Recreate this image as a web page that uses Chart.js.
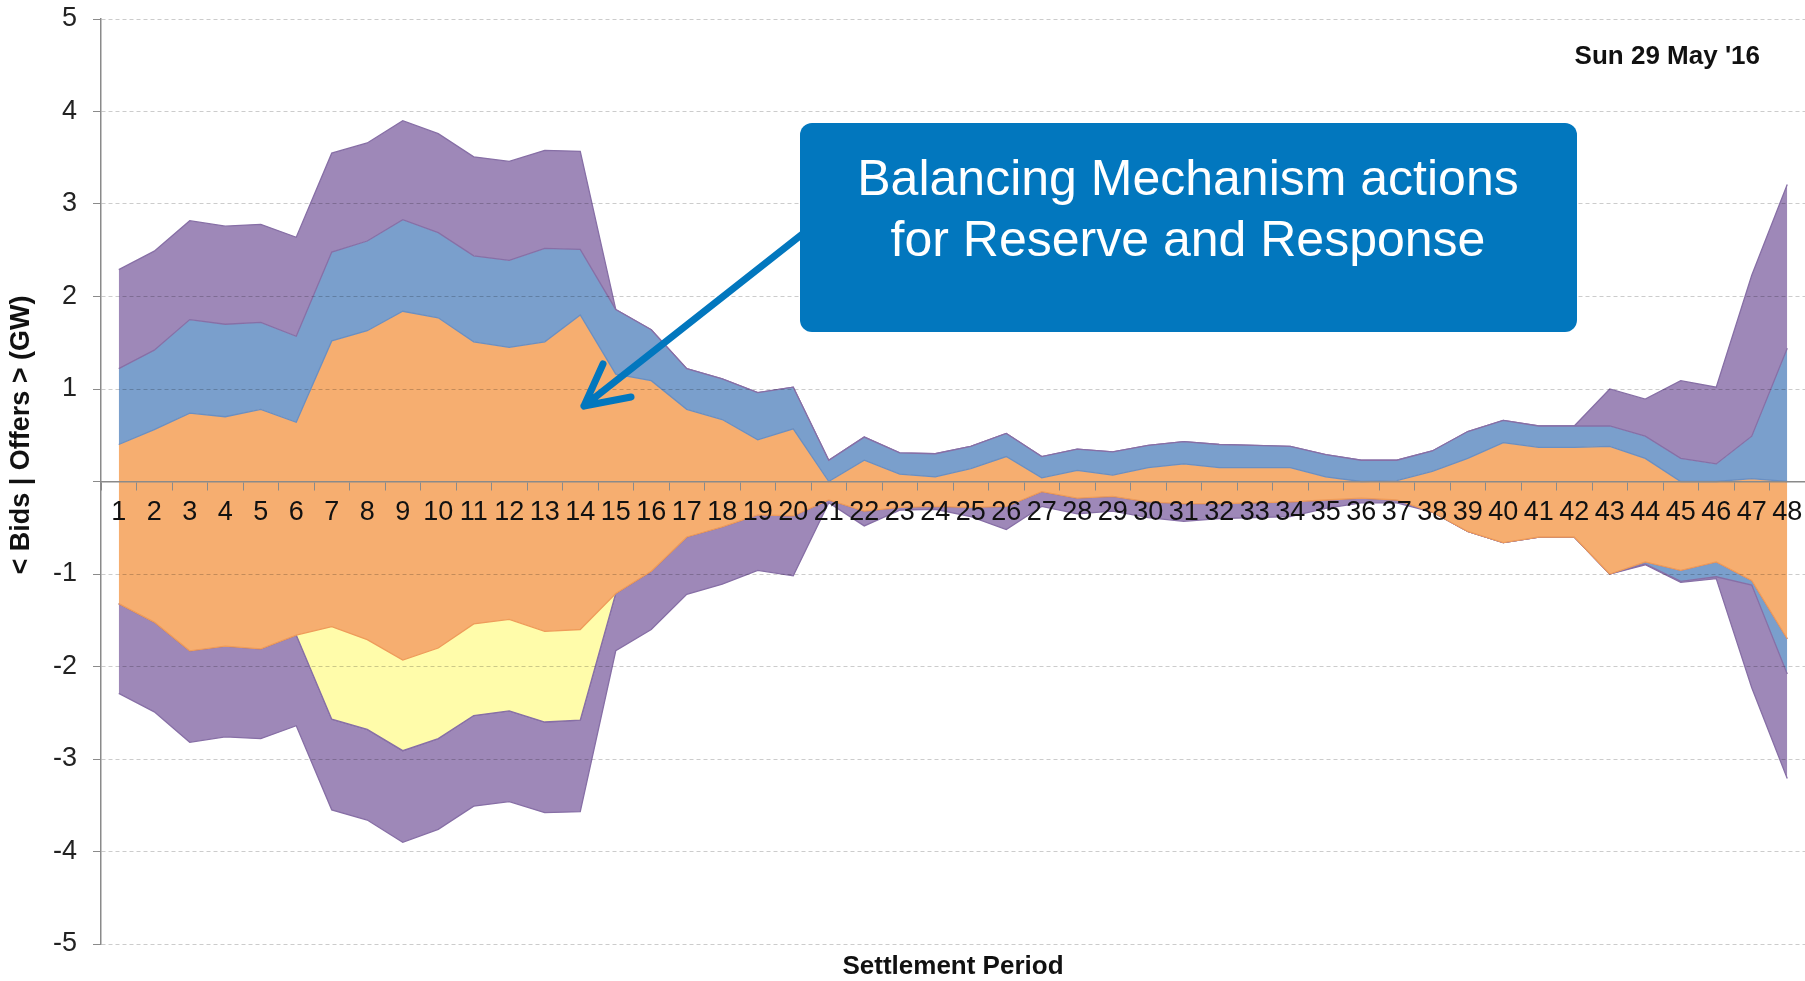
<!DOCTYPE html>
<html>
<head>
<meta charset="utf-8">
<title>Balancing Mechanism actions for Reserve and Response</title>
<script src="https://cdn.jsdelivr.net/npm/chart.js@4.4.0/dist/chart.umd.min.js"></script>
<style>
  html, body { margin: 0; padding: 0; background: #fff; }
  #wrap { width: 1805px; height: 981px; }
</style>
</head>
<body>
<div id="wrap"><canvas id="bmChart" width="1805" height="981"></canvas></div>
<script>
// settlement periods (x tick labels)
var periods = ['1', '2', '3', '4', '5', '6', '7', '8', '9', '10', '11', '12', '13', '14', '15', '16',
  '17', '18', '19', '20', '21', '22', '23', '24', '25', '26', '27', '28', '29', '30', '31', '32',
  '33', '34', '35', '36', '37', '38', '39', '40', '41', '42', '43', '44', '45', '46', '47', '48'];

// offers, GW, stacked up from zero
var offersOrange = [0.40, 0.56, 0.74, 0.70, 0.78, 0.64, 1.52, 1.63, 1.84, 1.77,
  1.51, 1.45, 1.51, 1.80, 1.16, 1.09, 0.78, 0.67, 0.45, 0.57,
  0.00, 0.23, 0.08, 0.05, 0.14, 0.27, 0.04, 0.12, 0.07, 0.15,
  0.19, 0.15, 0.15, 0.15, 0.05, 0.00, 0.01, 0.11, 0.25, 0.42,
  0.37, 0.37, 0.38, 0.25, 0.00, 0.00, 0.03, 0.00];
var offersBlue = [0.82, 0.86, 1.01, 1.00, 0.94, 0.93, 0.96, 0.97, 0.99, 0.92,
  0.93, 0.94, 1.01, 0.71, 0.70, 0.55, 0.44, 0.44, 0.51, 0.45,
  0.23, 0.25, 0.23, 0.25, 0.24, 0.25, 0.23, 0.23, 0.25, 0.24,
  0.24, 0.25, 0.24, 0.23, 0.24, 0.23, 0.22, 0.22, 0.29, 0.24,
  0.23, 0.23, 0.22, 0.24, 0.25, 0.19, 0.46, 1.44];
var offersPurple = [1.07, 1.07, 1.07, 1.06, 1.06, 1.07, 1.07, 1.06, 1.07, 1.07,
  1.07, 1.07, 1.06, 1.06, 0, 0, 0, 0, 0, 0,
  0, 0, 0, 0, 0, 0, 0, 0, 0, 0,
  0, 0, 0, 0, 0, 0, 0, 0, 0, 0,
  0, 0, 0.40, 0.40, 0.84, 0.83, 1.74, 1.77];

// bids, GW, stacked down from zero
var bidsOrange = [-1.32, -1.52, -1.83, -1.78, -1.81, -1.66, -1.57, -1.71, -1.93, -1.80,
  -1.54, -1.49, -1.62, -1.60, -1.21, -0.97, -0.60, -0.49, -0.36, -0.37,
  -0.20, -0.32, -0.28, -0.27, -0.28, -0.27, -0.11, -0.18, -0.16, -0.22,
  -0.24, -0.24, -0.23, -0.22, -0.20, -0.18, -0.20, -0.33, -0.54, -0.66,
  -0.60, -0.60, -1.00, -0.87, -0.96, -0.87, -1.07, -1.70];
var bidsYellow = [0, 0, 0, 0, 0, 0, -1.00, -0.97, -0.98, -0.98,
  -0.99, -0.99, -0.98, -0.98, 0, 0, 0, 0, 0, 0,
  0, 0, 0, 0, 0, 0, 0, 0, 0, 0,
  0, 0, 0, 0, 0, 0, 0, 0, 0, 0,
  0, 0, 0, 0, 0, 0, 0, 0];
var bidsBlue = [0, 0, 0, 0, 0, 0, 0, 0, 0, 0,
  0, 0, 0, 0, 0, 0, 0, 0, 0, 0,
  0, 0, 0, 0, 0, 0, 0, 0, 0, 0,
  0, 0, 0, 0, 0, 0, 0, 0, 0, 0,
  0, 0, 0, -0.02, -0.12, -0.16, -0.05, -0.38];
var bidsPurple = [-0.97, -0.97, -0.99, -0.98, -0.97, -0.98, -0.98, -0.98, -0.99, -0.98,
  -0.98, -0.98, -0.98, -0.99, -0.62, -0.63, -0.62, -0.62, -0.60, -0.65,
  -0.03, -0.16, -0.03, -0.03, -0.10, -0.25, -0.16, -0.17, -0.16, -0.17,
  -0.19, -0.16, -0.16, -0.16, -0.09, -0.05, -0.03, 0, 0, 0,
  0, 0, 0, -0.01, -0.01, -0.02, -1.11, -1.13];

var FONT = '"Liberation Sans", Arial, sans-serif';
var ORANGE = '#f6ae70', BLUE = '#7a9fcc', PURPLE = '#9e88b8', YELLOW = '#fffcaa';
var PURPLE_LINE = '#876fa6', BLUE_LINE = '#6a8fc2', ORANGE_LINE = '#ef9c5a';

function area(label, data, stack, fill, bg, line) {
    return {
        label: label,
        data: data,
        stack: stack,
        fill: fill,
        backgroundColor: bg,
        borderColor: line,
        borderWidth: 1.3,
        pointRadius: 0,
        tension: 0
    };
}

// callout, arrow, date and axis titles
var extras = {
    id: 'extras',
    afterDraw: function (chart) {
        var ctx = chart.ctx;
        var area = chart.chartArea;

        ctx.save();
        ctx.fillStyle = '#111';
        ctx.font = 'bold 27px ' + FONT;
        ctx.textAlign = 'center';
        ctx.textBaseline = 'middle';
        ctx.translate(22, 435);
        ctx.rotate(-Math.PI / 2);
        ctx.fillText('< Bids | Offers > (GW)', 0, 0);
        ctx.restore();

        ctx.save();
        ctx.fillStyle = '#111';
        ctx.font = 'bold 26px ' + FONT;
        ctx.textAlign = 'center';
        ctx.textBaseline = 'alphabetic';
        ctx.fillText('Settlement Period', (area.left + area.right) / 2, 974);
        ctx.textAlign = 'right';
        ctx.fillText('Sun 29 May \'16', 1760, 64);
        ctx.restore();

        // arrow
        ctx.save();
        ctx.strokeStyle = '#0277be';
        ctx.lineWidth = 7;
        ctx.lineCap = 'round';
        ctx.lineJoin = 'round';
        ctx.beginPath();
        ctx.moveTo(805, 232);
        ctx.lineTo(584, 406);
        ctx.moveTo(603, 364);
        ctx.lineTo(584, 406);
        ctx.lineTo(631, 397);
        ctx.stroke();

        // callout box
        ctx.fillStyle = '#0277be';
        ctx.beginPath();
        ctx.roundRect(800, 123, 777, 209, 12);
        ctx.fill();
        ctx.fillStyle = '#fff';
        ctx.font = '50px ' + FONT;
        ctx.textAlign = 'center';
        ctx.textBaseline = 'alphabetic';
        ctx.fillText('Balancing Mechanism actions', 1188, 195);
        ctx.fillText('for Reserve and Response', 1188, 256);
        ctx.restore();
    }
};

var bmChart = new Chart(document.getElementById('bmChart'), {
    type: 'line',
    data: {
        labels: periods,
        datasets: [
            area('Offers A', offersOrange, 'offers', 'origin', ORANGE, BLUE_LINE),
            area('Offers B', offersBlue, 'offers', '-1', BLUE, PURPLE_LINE),
            area('Offers C', offersPurple, 'offers', '-1', PURPLE, PURPLE_LINE),
            area('Bids A', bidsOrange, 'bids', 'origin', ORANGE, ORANGE_LINE),
            area('Bids D', bidsYellow, 'bids', '-1', YELLOW, PURPLE_LINE),
            area('Bids B', bidsBlue, 'bids', '-1', BLUE, PURPLE_LINE),
            area('Bids C', bidsPurple, 'bids', '-1', PURPLE, PURPLE_LINE)
        ]
    },
    options: {
        responsive: false,
        animation: false,
        events: [],
        layout: {
            autoPadding: false,
            padding: { top: 19, bottom: 37, left: 0, right: 0 }
        },
        plugins: {
            legend: { display: false },
            tooltip: { enabled: false }
        },
        scales: {
            x: {
                type: 'category',
                position: { y: 0 },
                offset: true,
                afterFit: function (scale) {
                    scale.paddingLeft = 0;
                    scale.paddingRight = 0;
                },
                ticks: {
                    autoSkip: false,
                    maxRotation: 0,
                    minRotation: 0,
                    padding: 7,
                    color: '#111',
                    z: 2,
                    font: { size: 27, family: FONT }
                },
                grid: {
                    offset: true,
                    drawOnChartArea: false,
                    tickLength: 8,
                    color: '#8a8a8a',
                    z: 2
                },
                border: { color: '#8a8a8a', width: 1.5, z: 2 }
            },
            y: {
                stacked: true,
                min: -5,
                max: 5,
                afterFit: function (scale) {
                    scale.width = 101;
                    scale.paddingTop = 0;
                    scale.paddingBottom = 0;
                },
                ticks: {
                    stepSize: 1,
                    padding: 16,
                    color: '#222',
                    z: 1,
                    font: { size: 27, family: FONT },
                    callback: function (v) { return v === 0 ? '' : v; }
                },
                grid: {
                    color: 'rgba(0,0,0,0.2)',
                    tickColor: '#8a8a8a',
                    tickLength: 8,
                    z: 1
                },
                border: { color: '#8a8a8a', width: 1.5, dash: [4, 3], z: 1 }
            }
        }
    },
    plugins: [extras]
});
</script>
</body>
</html>
